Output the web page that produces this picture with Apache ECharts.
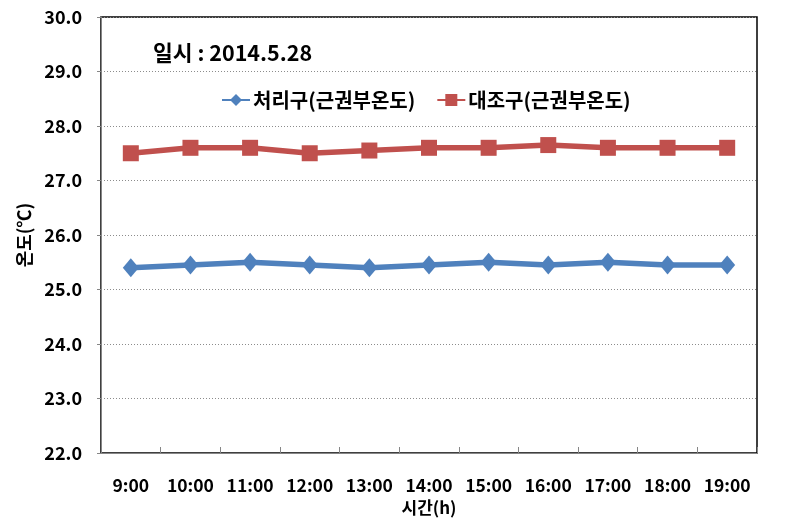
<!DOCTYPE html>
<html>
<head>
<meta charset="utf-8">
<script src="https://cdn.jsdelivr.net/npm/echarts@6/dist/echarts.min.js"></script>
<style>html,body{margin:0;padding:0;background:#fff}#c{width:811px;height:522px}</style>
</head>
<body>
<div id="c"></div>
<script>
var categories = ['9:00','10:00','11:00','12:00','13:00','14:00','15:00','16:00','17:00','18:00','19:00'];
var seriesNames = ['처리구(근권부온도)', '대조구(근권부온도)'];
var treated = [25.4, 25.45, 25.5, 25.45, 25.4, 25.45, 25.5, 25.45, 25.5, 25.45, 25.45];
var control = [27.5, 27.6, 27.6, 27.5, 27.55, 27.6, 27.6, 27.65, 27.6, 27.6, 27.6];
var yTicks = { min: 22, max: 30, interval: 1 };
var titleText = '일시 : 2014.5.28';
var xName = '시간(h)';
var yName = '온도(℃)';

var FONT = "'Noto Sans CJK KR', sans-serif";
var chart = echarts.init(document.getElementById('c'));
chart.setOption({
  animation: false,
  backgroundColor: '#fff',
  title: {
    text: titleText, left: 148, top: 37,
    textStyle: { fontFamily: FONT, fontSize: 21.5, fontWeight: 'bold', color: '#000' }
  },
  legend: {
    left: 216, top: 85, itemWidth: 28, itemHeight: 15, itemGap: 21,
    textStyle: { fontFamily: FONT, fontSize: 20, fontWeight: 'bold', color: '#000', padding: [0,0,0,-2] },
    data: seriesNames
  },
  grid: { left: 101, right: 54, top: 17, bottom: 69, show: true, borderColor: '#000', borderWidth: 1.5, backgroundColor: '#fff' },
  xAxis: {
    type: 'category', data: categories, boundaryGap: true,
    name: xName, nameLocation: 'middle', nameGap: 41,
    nameTextStyle: { fontFamily: FONT, fontSize: 17, fontWeight: 'bold', color: '#000' },
    axisLine: { lineStyle: { color: '#868686', width: 1 } },
    axisTick: { show: true, inside: true, length: 6, interval: 0, lineStyle: { color: '#868686' } },
    axisLabel: { margin: 24, interval: 0, hideOverlap: false, fontFamily: FONT, fontSize: 17.5, fontWeight: 'bold', color: '#000' }
  },
  yAxis: {
    type: 'value', min: yTicks.min, max: yTicks.max, interval: yTicks.interval,
    name: yName, nameLocation: 'middle', nameGap: 62,
    nameTextStyle: { fontFamily: FONT, fontSize: 18, fontWeight: 'bold', color: '#000' },
    axisLine: { show: true, lineStyle: { color: '#868686', width: 1 } },
    axisTick: { show: true, length: 4, lineStyle: { color: '#868686' } },
    splitLine: { show: true, lineStyle: { color: '#8c8c8c', type: [1, 2], width: 1 } },
    axisLabel: { margin: 19, fontFamily: FONT, fontSize: 18, fontWeight: 'bold', color: '#000',
      formatter: function (v) { return v.toFixed(1); } }
  },
  series: [
    { name: seriesNames[0], type: 'line', data: treated, symbol: 'diamond', symbolSize: [16, 19],
      lineStyle: { color: '#4F81BD', width: 5.5 }, itemStyle: { color: '#4F81BD' } },
    { name: seriesNames[1], type: 'line', data: control, symbol: 'rect', symbolSize: 16,
      lineStyle: { color: '#C0504D', width: 5.5 }, itemStyle: { color: '#C0504D' } }
  ]
});
</script>
</body>
</html>
